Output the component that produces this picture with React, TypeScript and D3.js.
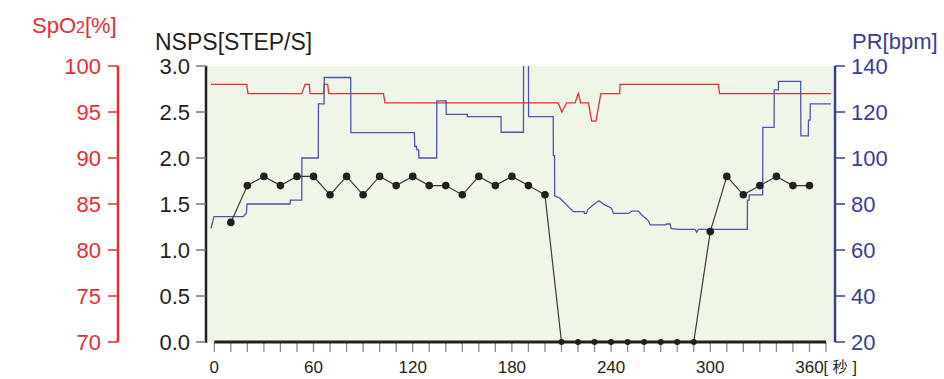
import React from "react";
import * as d3 from "d3";

// ---- data ----
const nspsTimes = [10, 20, 30, 40, 50, 60, 70, 80, 90, 100, 110, 120, 130, 140, 150, 160, 170, 180, 190, 200, 210, 220, 230, 240, 250, 260, 270, 280, 290, 300, 310, 320, 330, 340, 350, 360];
const nspsValues = [1.3, 1.7, 1.8, 1.7, 1.8, 1.8, 1.6, 1.8, 1.6, 1.8, 1.7, 1.8, 1.7, 1.7, 1.6, 1.8, 1.7, 1.8, 1.7, 1.6, 0, 0, 0, 0, 0, 0, 0, 0, 0, 1.2, 1.8, 1.6, 1.7, 1.8, 1.7, 1.7];

const spo2Times = [-2, 19.6, 20.4, 52.9, 54.9, 57.4, 58, 66, 66.6, 68.6, 69.2, 102.3, 103.3, 208, 210.2, 213.2, 218.2, 220.2, 221.6, 226.3, 228.3, 230.9, 233.8, 245.2, 245.4, 304.9, 305.6, 373];
const spo2Values = [98, 98, 97, 97, 98, 98, 97, 97, 98, 98, 97, 97, 96, 96, 95, 96, 96, 97, 96, 96, 94, 94, 97, 97, 98, 98, 97, 97];

const prTimes = [-2, -0.2, 17.5, 19.4, 19.8, 45.8, 46, 52.9, 53, 62.9, 63, 66.4, 66.5, 82.5, 82.6, 121, 121.3, 122.3, 122.5, 123.6, 123.8, 134.5, 134.6, 140.2, 140.3, 153, 153.1, 173.4, 173.5, 187, 187.1, 190, 190.1, 205, 205.1, 205.8, 205.9, 209.1, 217.2, 223.6, 224, 225, 226, 229.1, 232.7, 236.2, 240.2, 241.5, 250.5, 252.5, 256.5, 258.6, 262.6, 263.6, 272.7, 273.7, 275.7, 276.3, 280.7, 290.8, 291.8, 292.8, 322.4, 322.5, 323.5, 323.6, 331.7, 331.8, 338.6, 338.7, 341.2, 341.3, 354.7, 354.8, 359.3, 359.4, 360.4, 360.5, 373];
const prValues = [69.4, 74.5, 74.5, 76, 80, 80, 81.7, 81.7, 100, 100, 123.5, 123.5, 135, 135, 111, 111, 105, 105, 103.5, 103.5, 100, 100, 124.8, 124.8, 119, 119, 118, 118, 111.2, 111.2, 155, 155, 118, 118, 101, 101, 83.6, 82.5, 76.7, 76.7, 75.9, 75.9, 77.7, 79.6, 81.4, 79.6, 78.2, 75.9, 75.9, 76.9, 76.9, 75.2, 72.7, 70.9, 70.9, 71.3, 71.3, 69.4, 69, 69, 67.7, 69, 69, 81.7, 81.7, 84, 84, 113.3, 113.3, 129.6, 129.6, 133.3, 133.3, 109.6, 109.6, 116.5, 116.5, 123.5, 123.5];

const xTickLabels = [0, 60, 120, 180, 240, 300, 360];
const xMinorTicks = [0, 10, 20, 30, 40, 50, 60, 70, 80, 90, 100, 110, 120, 130, 140, 150, 160, 170, 180, 190, 200, 210, 220, 230, 240, 250, 260, 270, 280, 290, 300, 310, 320, 330, 340, 350, 360, 370];
const nspsTicks = [0, 0.5, 1.0, 1.5, 2.0, 2.5, 3.0];
const spo2Ticks = [70, 75, 80, 85, 90, 95, 100];
const prTicks = [20, 40, 60, 80, 100, 120, 140];

// ---- style ----
const RED = "#ee2a33";
const BLUE_AXIS = "#3a3d96";
const BLUE_LINE = "#4e54ad";
const DARK = "#231f20";
const GREEN_BG = "#eff5e7";
const FONT = "'Liberation Sans', Arial, Helvetica, sans-serif";

const W = 944;
const H = 379;
const plotTop = 66;
const plotBottom = 342;
const plotLeft = 207;
const plotRight = 833;

export default function App() {
  const x = d3.scaleLinear().domain([0, 370]).range([214.3, 826]);
  const yN = d3.scaleLinear().domain([0, 3]).range([plotBottom, plotTop]);
  const yS = d3.scaleLinear().domain([70, 100]).range([plotBottom, plotTop]);
  const yP = d3.scaleLinear().domain([20, 140]).range([plotBottom, plotTop]);

  const spo2Line = d3
    .line<number>()
    .x((_, i) => x(spo2Times[i]))
    .y((d) => yS(d))(spo2Values) as string;
  const prLine = d3
    .line<number>()
    .x((_, i) => x(prTimes[i]))
    .y((d) => yP(d))(prValues) as string;
  const nspsLine = d3
    .line<number>()
    .x((_, i) => x(nspsTimes[i]))
    .y((d) => yN(d))(nspsValues) as string;

  const redAxisX = 118;
  const blackAxisX = 206;
  const blueAxisX = 835;
  const unitX = x(360) + 14;

  return (
    <svg
      width={W}
      height={H}
      style={{ position: "absolute", left: 0, top: 0, background: "#fff" }}
      fontFamily={FONT}
    >
      <defs>
        <clipPath id="plotClip">
          <rect x={plotLeft} y={plotTop} width={plotRight - plotLeft} height={plotBottom - plotTop} />
        </clipPath>
      </defs>
      <rect x={plotLeft} y={plotTop} width={plotRight - plotLeft} height={plotBottom - plotTop} fill={GREEN_BG} />

      <g clipPath="url(#plotClip)">
        <path d={spo2Line} fill="none" stroke={RED} strokeWidth={1.3} />
        <path d={prLine} fill="none" stroke={BLUE_LINE} strokeWidth={1.3} />
      </g>
      <path d={nspsLine} fill="none" stroke="#3a3a3a" strokeWidth={1.2} />

      {/* x axis */}
      {xMinorTicks.map((t) => (
        <line key={"xt" + t} x1={x(t)} x2={x(t)} y1={plotBottom} y2={plotBottom + 10} stroke="#8a8a8a" strokeWidth={1.3} />
      ))}
      <line x1={x(0)} x2={x(370)} y1={plotBottom} y2={plotBottom} stroke={DARK} strokeWidth={3} />
      {nspsValues.map((v, i) => (
        <circle key={"d" + i} cx={x(nspsTimes[i])} cy={yN(v)} r={v === 0 ? 3 : 3.8} fill={DARK} />
      ))}
      {xTickLabels.map((t) => (
        <text key={"xl" + t} x={x(t)} y={373} textAnchor="middle" fontSize={17} fill={DARK}>
          {t}
        </text>
      ))}
      <text x={unitX} y={373} fontSize={16} fill={DARK}>[</text>
      <text x={unitX + 9} y={372} fontSize={15} fill={DARK} fontFamily="'Noto Sans CJK JP', sans-serif">秒</text>
      <text x={unitX + 29} y={373} fontSize={16} fill={DARK}>]</text>

      {/* NSPS axis (black) */}
      <line x1={blackAxisX} x2={blackAxisX} y1={plotTop} y2={plotBottom + 1} stroke={DARK} strokeWidth={2.5} />
      {nspsTicks.map((v) => (
        <g key={"n" + v}>
          <line x1={blackAxisX - 10} x2={blackAxisX} y1={yN(v)} y2={yN(v)} stroke="#777" strokeWidth={1.5} />
          <text x={190} y={yN(v)} dy="0.36em" textAnchor="end" fontSize={22} fill={DARK}>
            {v.toFixed(1)}
          </text>
        </g>
      ))}
      <text x={155} y={50} fontSize={23} fill={DARK}>
        NSPS[STEP/S]
      </text>

      {/* SpO2 axis (red) */}
      <line x1={redAxisX} x2={redAxisX} y1={plotTop} y2={plotBottom} stroke={RED} strokeWidth={2.5} />
      {spo2Ticks.map((v) => (
        <g key={"s" + v}>
          <line x1={redAxisX - 10} x2={redAxisX} y1={yS(v)} y2={yS(v)} stroke={RED} strokeWidth={1.5} />
          <text x={101} y={yS(v)} dy="0.36em" textAnchor="end" fontSize={22} fill={RED}>
            {v}
          </text>
        </g>
      ))}
      <text x={32} y={33} fontSize={22} fill={RED}>
        SpO<tspan fontSize={16}>2</tspan>[%]
      </text>

      {/* PR axis (blue) */}
      <line x1={blueAxisX} x2={blueAxisX} y1={plotTop} y2={plotBottom} stroke={BLUE_AXIS} strokeWidth={2.5} />
      {prTicks.map((v) => (
        <g key={"p" + v}>
          <line x1={blueAxisX} x2={blueAxisX + 10} y1={yP(v)} y2={yP(v)} stroke={BLUE_AXIS} strokeWidth={1.5} />
          <text x={851} y={yP(v)} dy="0.36em" textAnchor="start" fontSize={22} fill={BLUE_AXIS}>
            {v}
          </text>
        </g>
      ))}
      <text x={852} y={49} fontSize={22} fill={BLUE_AXIS}>
        PR[bpm]
      </text>
    </svg>
  );
}
